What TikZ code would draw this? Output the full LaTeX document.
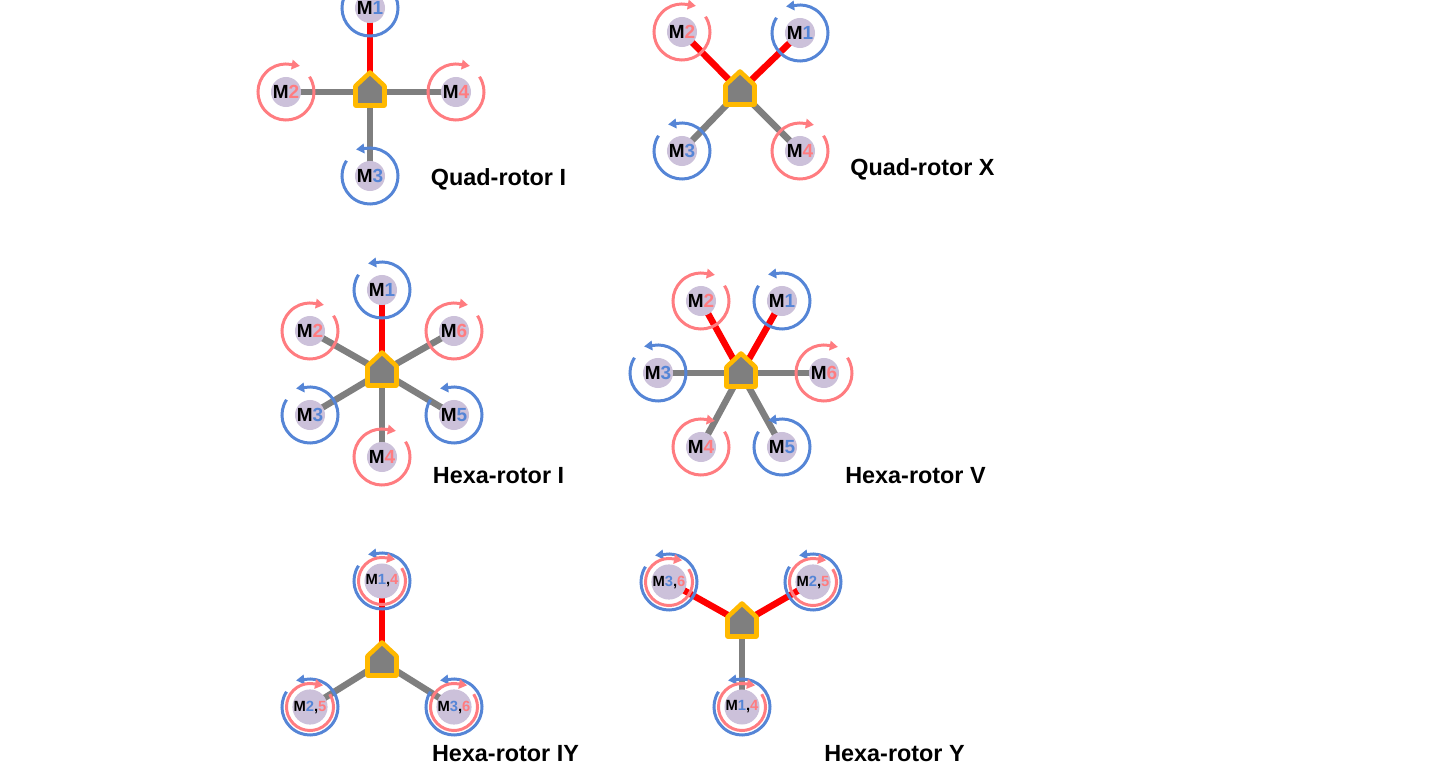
\documentclass[tikz,border=0pt]{standalone}
\usepackage{fontspec}
\setmainfont{Liberation Sans}
\usepackage{xcolor}
\usetikzlibrary{arrows.meta,backgrounds}
\definecolor{spinblue}{HTML}{5585D6}
\definecolor{spinred}{HTML}{FF7C80}
\definecolor{discfill}{HTML}{CCC1DA}
\definecolor{armgray}{HTML}{7F7F7F}
\definecolor{hullgold}{HTML}{FFB900}
\tikzset{
  motor/.style={circle, fill=discfill, minimum size=3mm, inner sep=0pt, font=\fontsize{5.4}{6}\selectfont\bfseries},
  motorsmall/.style={motor, font=\fontsize{4.2}{5}\selectfont\bfseries},
  hullspot/.style={inner sep=0pt, minimum size=0pt},
  hullline/.style={draw=hullgold, fill=armgray, line width=1.3pt, line join=round},
  arm/.style={armgray, line width=0.065cm},
  armfront/.style={red, line width=0.065cm},
  spin/.style={line width=0.85pt, -{Triangle[length=2.3pt,width=2.7pt]}},
  caption/.style={font=\fontsize{6.65}{8}\selectfont\bfseries},
}
\newcommand{\bl}[1]{\textcolor{spinblue}{#1}}
\newcommand{\rd}[1]{\textcolor{spinred}{#1}}
\newcommand{\hull}[2]{
  \node[hullspot] (#1) at (#2) {};
  \draw[hullline] ([shift={(-14.5,6)}]#1.center) -- ([shift={(0,19.5)}]#1.center) -- ([shift={(14.5,6)}]#1.center)
    -- ([shift={(14.5,-13.5)}]#1.center) -- ([shift={(-14.5,-13.5)}]#1.center) -- cycle;
}
\newcommand{\ccwarc}[2][0.28cm]{\draw[spin, spinblue] ([shift={(147:#1)}]#2.center) arc[start angle=147, end angle=460, radius=#1] -- ++(-9,-1);}
\newcommand{\cwarc}[2][0.28cm]{\draw[spin, spinred] ([shift={(33:#1)}]#2.center) arc[start angle=33, end angle=-280, radius=#1] -- ++(9,-1.5);}
\begin{document}
\begin{tikzpicture}[x=0.01cm, y=0.01cm]
  \useasboundingbox (0,0) rectangle (1444,769);
  \clip (0,0) rectangle (1444,769);
  % Quad-rotor I
  \hull{qi}{370,677}
  \node[motor] (qim1) at (370,761) {M\bl{1}};
  \node[motor] (qim2) at (286,677) {M\rd{2}};
  \node[motor] (qim3) at (370,593) {M\bl{3}};
  \node[motor] (qim4) at (456,677) {M\rd{4}};
  \node[caption] (qilabel) at (498.5,590) {Quad-rotor I};
  \begin{pgfonlayer}{background}
    \draw[armfront] (qi.center) -- (qim1.center);
    \draw[arm] (qi.center) -- (qim2.center);
    \draw[arm] (qi.center) -- (qim3.center);
    \draw[arm] (qi.center) -- (qim4.center);
  \end{pgfonlayer}
  \ccwarc{qim1} \cwarc{qim2} \ccwarc{qim3} \cwarc{qim4}
  % Quad-rotor X
  \hull{qx}{740,678}
  \node[motor] (qxm1) at (800,736) {M\bl{1}};
  \node[motor] (qxm2) at (682,737) {M\rd{2}};
  \node[motor] (qxm3) at (682,618) {M\bl{3}};
  \node[motor] (qxm4) at (800,618) {M\rd{4}};
  \node[caption] (qxlabel) at (922.5,600) {Quad-rotor X};
  \begin{pgfonlayer}{background}
    \draw[armfront] (qx.center) -- (qxm1.center);
    \draw[armfront] (qx.center) -- (qxm2.center);
    \draw[arm] (qx.center) -- (qxm3.center);
    \draw[arm] (qx.center) -- (qxm4.center);
  \end{pgfonlayer}
  \ccwarc{qxm1} \cwarc{qxm2} \ccwarc{qxm3} \cwarc{qxm4}
  % Hexa-rotor I
  \hull{hi}{382,397}
  \node[motor] (him1) at (382,479) {M\bl{1}};
  \node[motor] (him2) at (310,438) {M\rd{2}};
  \node[motor] (him3) at (310,354) {M\bl{3}};
  \node[motor] (him4) at (382,312) {M\rd{4}};
  \node[motor] (him5) at (454,354) {M\bl{5}};
  \node[motor] (him6) at (454,438) {M\rd{6}};
  \node[caption] (hilabel) at (498.5,293.5) {Hexa-rotor I};
  \begin{pgfonlayer}{background}
    \draw[armfront] (hi.center) -- (him1.center);
    \draw[arm] (hi.center) -- (him2.center);
    \draw[arm] (hi.center) -- (him3.center);
    \draw[arm] (hi.center) -- (him4.center);
    \draw[arm] (hi.center) -- (him5.center);
    \draw[arm] (hi.center) -- (him6.center);
  \end{pgfonlayer}
  \ccwarc{him1} \cwarc{him2} \ccwarc{him3} \cwarc{him4} \ccwarc{him5} \cwarc{him6}
  % Hexa-rotor V
  \hull{hv}{741,396}
  \node[motor] (hvm1) at (782,468) {M\bl{1}};
  \node[motor] (hvm2) at (701,468) {M\rd{2}};
  \node[motor] (hvm3) at (658,396) {M\bl{3}};
  \node[motor] (hvm4) at (701,322) {M\rd{4}};
  \node[motor] (hvm5) at (782,322) {M\bl{5}};
  \node[motor] (hvm6) at (824,396) {M\rd{6}};
  \node[caption] (hvlabel) at (915.5,293.5) {Hexa-rotor V};
  \begin{pgfonlayer}{background}
    \draw[armfront] (hv.center) -- (hvm1.center);
    \draw[armfront] (hv.center) -- (hvm2.center);
    \draw[arm] (hv.center) -- (hvm3.center);
    \draw[arm] (hv.center) -- (hvm4.center);
    \draw[arm] (hv.center) -- (hvm5.center);
    \draw[arm] (hv.center) -- (hvm6.center);
  \end{pgfonlayer}
  \ccwarc{hvm1} \cwarc{hvm2} \ccwarc{hvm3} \cwarc{hvm4} \ccwarc{hvm5} \cwarc{hvm6}
  % Hexa-rotor IY
  \hull{hiy}{382,107}
  \node[motorsmall] (hiym1) at (382,188) {M\bl{1},\rd{4}};
  \node[motorsmall] (hiym2) at (310,62) {M\bl{2},\rd{5}};
  \node[motorsmall] (hiym3) at (454,62) {M\bl{3},\rd{6}};
  \node[caption] (hiylabel) at (505.5,15.5) {Hexa-rotor IY};
  \begin{pgfonlayer}{background}
    \draw[armfront] (hiy.center) -- (hiym1.center);
    \draw[arm] (hiy.center) -- (hiym2.center);
    \draw[arm] (hiy.center) -- (hiym3.center);
  \end{pgfonlayer}
  \ccwarc{hiym1} \cwarc[0.235cm]{hiym1}
  \ccwarc{hiym2} \cwarc[0.235cm]{hiym2}
  \ccwarc{hiym3} \cwarc[0.235cm]{hiym3}
  % Hexa-rotor Y
  \hull{hy}{742,146}
  \node[motorsmall] (hym1) at (742,62) {M\bl{1},\rd{4}};
  \node[motorsmall] (hym2) at (813,187) {M\bl{2},\rd{5}};
  \node[motorsmall] (hym3) at (669,187) {M\bl{3},\rd{6}};
  \node[caption] (hylabel) at (894.5,15.5) {Hexa-rotor Y};
  \begin{pgfonlayer}{background}
    \draw[arm] (hy.center) -- (hym1.center);
    \draw[armfront] (hy.center) -- (hym2.center);
    \draw[armfront] (hy.center) -- (hym3.center);
  \end{pgfonlayer}
  \ccwarc{hym1} \cwarc[0.235cm]{hym1}
  \ccwarc{hym2} \cwarc[0.235cm]{hym2}
  \ccwarc{hym3} \cwarc[0.235cm]{hym3}
\end{tikzpicture}
\end{document}
